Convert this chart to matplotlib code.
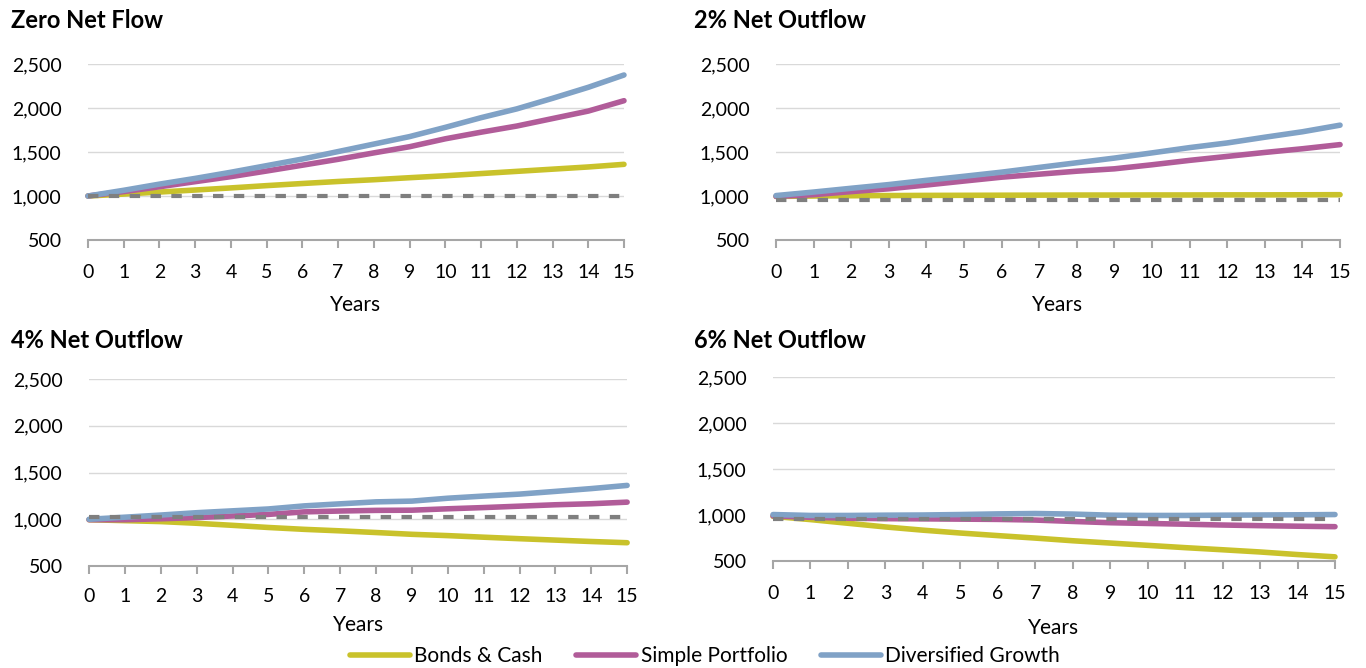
"""Portfolio value under different net flow scenarios (four small panels)."""

import matplotlib
matplotlib.use("Agg")
import matplotlib.pyplot as plt
from matplotlib.ticker import FuncFormatter

plt.rcParams["font.family"] = ["Lato", "DejaVu Sans"]

years = list(range(16))
y_ticks = [500, 1000, 1500, 2000, 2500]
series_names = ["Bonds & Cash", "Simple Portfolio", "Diversified Growth"]

# zero net flow
zero_bonds = [1000, 1022, 1045, 1068, 1092, 1118, 1142, 1165, 1185, 1208, 1230, 1255, 1280, 1305, 1330, 1360]
zero_simple = [1000, 1050, 1105, 1163, 1220, 1284, 1350, 1417, 1490, 1560, 1650, 1725, 1795, 1880, 1965, 2083]
zero_divers = [1000, 1065, 1135, 1200, 1270, 1345, 1420, 1505, 1590, 1675, 1780, 1890, 1990, 2110, 2235, 2375]
zero_base = 1000

# 2% net outflow
out2_bonds = [995, 1000, 1003, 1005, 1007, 1008, 1009, 1010, 1011, 1011, 1012, 1012, 1013, 1013, 1014, 1015]
out2_simple = [995, 1015, 1050, 1082, 1125, 1170, 1214, 1248, 1282, 1309, 1355, 1405, 1450, 1495, 1537, 1584]
out2_divers = [1005, 1045, 1088, 1130, 1178, 1224, 1271, 1325, 1378, 1431, 1490, 1550, 1603, 1668, 1730, 1805]
out2_base = 960

# 4% net outflow
out4_bonds = [995, 985, 975, 957, 935, 912, 892, 876, 858, 839, 825, 808, 792, 777, 762, 749]
out4_simple = [995, 995, 1005, 1018, 1035, 1052, 1079, 1088, 1095, 1097, 1112, 1125, 1140, 1155, 1166, 1183]
out4_divers = [1000, 1022, 1045, 1070, 1090, 1110, 1143, 1165, 1186, 1194, 1225, 1248, 1269, 1298, 1328, 1362]
out4_base = 1020

# 6% net outflow
out6_bonds = [985, 950, 910, 870, 835, 804, 776, 749, 720, 695, 670, 645, 622, 598, 570, 545]
out6_simple = [990, 975, 965, 960, 958, 955, 952, 945, 930, 916, 908, 900, 891, 884, 878, 873]
out6_divers = [1005, 995, 995, 998, 1000, 1005, 1012, 1016, 1010, 998, 995, 995, 998, 1000, 1002, 1005]
out6_base = 960

colors = ["#C9C22B", "#B15C99", "#80A2C6"]
dash_color = "#7F7F7F"
grid_color = "#D9D9D9"
axis_color = "#A6A6A6"

panels = [
    # title, data, base, [left, bottom, width, height], title pos, tick pad, label pad
    ("Zero Net Flow", [zero_bonds, zero_simple, zero_divers], zero_base,
     [0.0644, 0.6407, 0.3924, 0.2635], (0.008, 0.970), 11, 10),
    ("2% Net Outflow", [out2_bonds, out2_simple, out2_divers], out2_base,
     [0.5681, 0.6407, 0.4129, 0.2635], (0.508, 0.970), 11, 10),
    ("4% Net Outflow", [out4_bonds, out4_simple, out4_divers], out4_base,
     [0.0652, 0.1527, 0.3939, 0.2799], (0.008, 0.491), 10, 7),
    ("6% Net Outflow", [out6_bonds, out6_simple, out6_divers], out6_base,
     [0.5659, 0.1602, 0.4114, 0.2754], (0.508, 0.491), 11, 12),
]

fig = plt.figure(figsize=(13.66, 6.68), dpi=100)
fig.patch.set_facecolor("white")

handles = []
for title, data, base, rect, tpos, xpad, lpad in panels:
    ax = fig.add_axes(rect)
    ax.set_xlim(0, 15)
    ax.set_ylim(500, 2500)
    ax.set_yticks(y_ticks)
    ax.set_xticks(years)
    ax.yaxis.set_major_formatter(FuncFormatter(lambda v, _: f"{int(v):,}"))
    ax.grid(axis="y", color=grid_color, linewidth=1.0)
    ax.set_axisbelow(True)
    for s in ["top", "right", "left"]:
        ax.spines[s].set_visible(False)
    ax.spines["bottom"].set_color(axis_color)
    ax.spines["bottom"].set_linewidth(1.5)
    ax.tick_params(axis="y", length=0, pad=19, labelsize=14, colors="#000000")
    ax.tick_params(axis="x", length=6, width=1.5, color=axis_color, pad=xpad,
                   labelsize=14, labelcolor="#000000")
    ax.set_xlabel("Years", fontsize=15, labelpad=lpad)

    hs = []
    for vals, c, name in zip(data, colors, series_names):
        (h,) = ax.plot(years, vals, color=c, linewidth=4, solid_capstyle="round",
                       label=name, clip_on=False, zorder=3)
        hs.append(h)
    ax.plot(years, [base] * len(years), color=dash_color, linewidth=3,
            linestyle=(0, (2.5, 2.5)), zorder=4)
    handles = hs

    fig.text(tpos[0], tpos[1], title, fontsize=17, fontweight="bold",
             ha="left", va="center")

fig.legend(handles, series_names, loc="center", bbox_to_anchor=(0.516, 0.018),
           ncol=3, frameon=False, fontsize=15, handlelength=2.9,
           handletextpad=0.2, columnspacing=1.6, borderaxespad=0)

fig.savefig("out.png", dpi=100, facecolor="white")
